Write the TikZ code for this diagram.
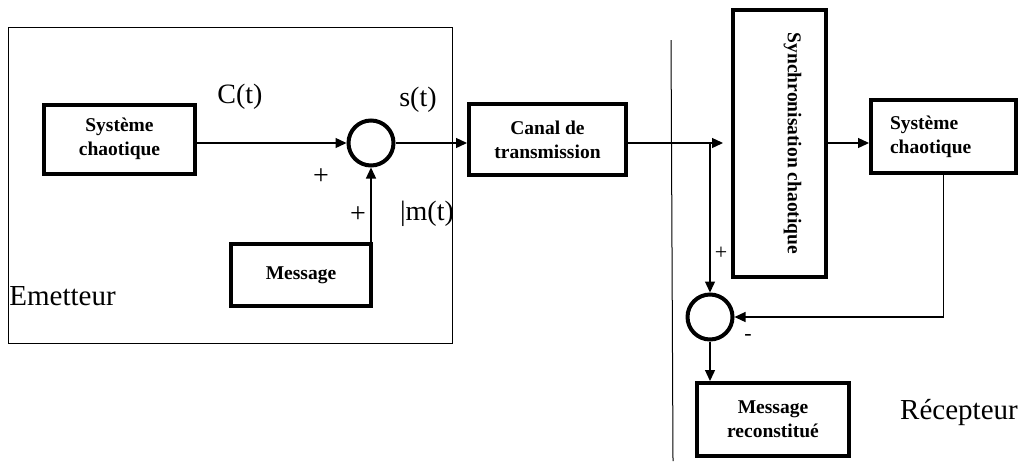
\documentclass[tikz,border=0pt]{standalone}
\usepackage{fontspec}
\setmainfont{Liberation Serif}
\usetikzlibrary{arrows.meta}

\begin{document}
\begin{tikzpicture}[
  x=0.5pt, y=-0.5pt,
  >={Triangle[length=5.5pt,width=5pt]},
  every node/.style={inner sep=0pt},
  blk/.style={draw, line width=2pt, align=center, font=\bfseries\fontsize{9.75}{12}\selectfont},
  sum/.style={draw, circle, line width=2pt, minimum size=22.5pt},
  wire/.style={line width=0.65pt},
  lbl/.style={font=\fontsize{14}{16}\selectfont},
  big/.style={font=\fontsize{14.5}{17}\selectfont},
  sgn/.style={font=\fontsize{11}{13}\selectfont}
]
\useasboundingbox (0,0) rectangle (1036,461);
% frame of the emitter, divider of the receiver
\draw[line width=0.5pt] (8,27) rectangle (452,343);
\draw[line width=0.5pt] (671,40) -- (673,461);

\node[blk, minimum width=75.5pt, minimum height=34.5pt] (sys1) at (119.5,139) {Système\\chaotique};
\node[sum] (sum1) at (371,143) {};
\node[blk, minimum width=70pt, minimum height=31pt] (msg) at (301,275) {Message};
\node[blk, minimum width=78.5pt, minimum height=35.5pt] (canal) at (547.5,139.5) {Canal de\\transmission};
\node[blk, minimum width=46.5pt, minimum height=133.5pt] (sync) at (779.5,143.5) {};
\node[blk, draw=none, rotate=-90] (synctxt) at ([xshift=6.5pt]sync.center) {Synchronisation chaotique};
\node[blk, align=left, text width=53.5pt, inner xsep=9.5pt, minimum height=36.5pt] (sys2) at (943.5,136.5) {Système\\chaotique};
\node[sum] (sum2) at (710,317) {};
\node[blk, minimum width=76pt, minimum height=36.5pt] (rec) at (773,419.5) {Message\\reconstitué};

% signal labels
\node[lbl] (ct) at (240,97) {C(t)};
\node[lbl] (st) at (418,100) {s(t)};
\node[lbl] (p1) at (321,177) {+};
\node[lbl] (p2) at (358,215) {+};
\node[lbl] (mt) at (427,214) {|m(t)};
\node[big, anchor=west] (em) at (9,296) {Emetteur};
\node[big] (rc) at (959,412) {Récepteur};
\node[sgn] (p3) at (721,253) {+};
\node[sgn] (mn) at (748,337) {-};

\coordinate (tap) at (sum2 |- sum1);
\draw[wire, ->] (sys1.east |- sum1) -- (sum1.west);
\draw[wire, ->] (sum1.south |- msg.north) -- (sum1.south);
\draw[wire, ->] (sum1.east) -- (canal.west |- sum1);
\draw[wire, ->, shorten >=4pt] (canal.east |- sum1) -- (sync.west |- sum1);
\draw[wire, ->] (tap) -- (sum2.north);
\draw[wire, ->] (sync.east |- sum1) -- (sys2.west |- sum1);
\draw[wire, ->] (sys2.south) |- (sum2.east);
\draw[wire, ->] (sum2.south) -- (sum2.south |- rec.north);
\end{tikzpicture}
\end{document}
